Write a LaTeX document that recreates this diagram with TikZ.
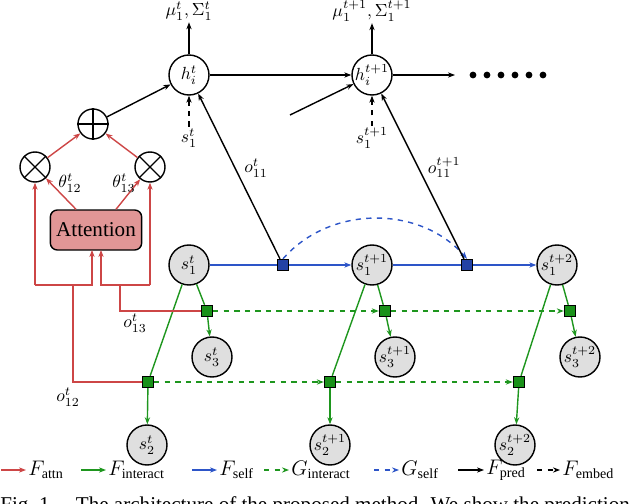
\documentclass[tikz,border=0pt]{standalone}
\usepackage{fontspec}
\setmainfont{Liberation Serif}
\usetikzlibrary{arrows.meta}
\definecolor{cred}{RGB}{205,70,70}
\definecolor{cgreen}{RGB}{30,150,30}
\definecolor{cblue}{RGB}{45,85,200}
\definecolor{sqblue}{RGB}{35,65,165}
\definecolor{sqgreen}{RGB}{25,145,25}
\definecolor{attfill}{RGB}{225,150,150}
\tikzset{
  >={Stealth[length=4pt,width=3pt]},
  hnode/.style={circle,draw,thick,minimum size=40*0.02cm,inner sep=0pt},
  snode/.style={circle,draw,thick,fill=gray!25,minimum size=40*0.02cm,inner sep=0pt},
  opnode/.style={circle,draw,thick,minimum size=30*0.02cm,inner sep=0pt},
  bsq/.style={draw,thick,fill=sqblue,minimum size=11*0.02cm,inner sep=0pt},
  gsq/.style={draw,thick,fill=sqgreen,minimum size=11*0.02cm,inner sep=0pt},
  redl/.style={cred,thick},
  greenl/.style={cgreen,thick},
  bluel/.style={cblue,thick},
  lbl/.style={font=\normalsize,inner sep=1pt},
  leg/.style={right=0pt,black,inner sep=1pt,font=\large},
}
\begin{document}
\begin{tikzpicture}[x=0.02cm,y=-0.02cm]
\useasboundingbox (0,0) rectangle (640,504);
\clip (0,0) rectangle (640,504);
% top row
\node[hnode] (h1) at (189,75) {$h_i^t$};
\node[hnode] (h2) at (372,75) {$h_i^{t+1}$};
\node[lbl] (mu1) at (189,11) {$\mu_1^t,\Sigma_1^t$};
\node[lbl] (mu2) at (372,11) {$\mu_1^{t+1},\Sigma_1^{t+1}$};
\draw[->,thick] (h1) -- (mu1);
\draw[->,thick] (h2) -- (mu2);
\draw[->,thick] (h1) -- (h2);
\coordinate (hend) at (455,75);
\draw[->,thick] (h2) -- (hend);
\foreach \x in {473,487,501,515,529,543} \fill (\x,75) circle (3.4*0.02cm);
\coordinate (pin) at (290,115);
\draw[->,thick] (pin) -- (h2);
\node[lbl] (e1) at (189,138) {$s_1^t$};
\node[lbl] (e2) at (372,138) {$s_1^{t+1}$};
\draw[->,thick,dashed] (e1) -- (h1);
\draw[->,thick,dashed] (e2) -- (h2);
% attention block
\node[opnode] (plus) at (93,124) {};
\draw[thick] (plus.north) -- (plus.south) (plus.west) -- (plus.east);
\node[opnode] (m1) at (35,167) {};
\node[opnode] (m2) at (150,167) {};
\foreach \m in {m1,m2}
  \draw[thick] (\m.north west) -- (\m.south east) (\m.north east) -- (\m.south west);
\draw[->,thick] (plus) -- (h1);
\draw[->,redl] (m1) -- (plus);
\draw[->,redl] (m2) -- (plus);
\node[draw,thick,rounded corners=4pt,fill=attfill,minimum width=82*0.02cm,minimum height=40*0.02cm,font=\large] (att) at (96,230) {Attention};
\draw[->,redl] ([xshift=-20*0.02cm]att.north) -- (m1);
\draw[->,redl] ([xshift=20*0.02cm]att.north) -- (m2);
\node[lbl] at (70,183) {$\theta_{12}^t$};
\node[lbl] at (124,183) {$\theta_{13}^t$};
% state nodes
\node[snode] (s1a) at (189,265) {$s_1^t$};
\node[snode] (s1b) at (372,265) {$s_1^{t+1}$};
\node[snode] (s1c) at (557,265) {$s_1^{t+2}$};
\node[snode] (s3a) at (212,357) {$s_3^t$};
\node[snode] (s3b) at (395,357) {$s_3^{t+1}$};
\node[snode] (s3c) at (580,357) {$s_3^{t+2}$};
\node[snode] (s2a) at (147,445) {$s_2^t$};
\node[snode] (s2b) at (330,445) {$s_2^{t+1}$};
\node[snode] (s2c) at (515,445) {$s_2^{t+2}$};
% self
\node[bsq] (b1) at (283,265) {};
\node[bsq] (b2) at (467,265) {};
\draw[bluel] (s1a) -- (b1);
\draw[->,bluel] (b1) -- (s1b);
\draw[bluel] (s1b) -- (b2);
\draw[->,bluel] (b2) -- (s1c);
\draw[->,bluel,dashed] (b1.north) .. controls (330,205) and (420,205) .. (b2.north);
\draw[->,thick] (b1) -- node[lbl,pos=0.55,right=4pt] {$o_{11}^t$} (h1);
\draw[->,thick] (b2) -- node[lbl,pos=0.55,right=4pt] {$o_{11}^{t+1}$} (h2);
% interact
\node[gsq] (ga1) at (207,311) {};
\node[gsq] (ga2) at (385,311) {};
\node[gsq] (ga3) at (570,311) {};
\node[gsq] (gb1) at (148,382) {};
\node[gsq] (gb2) at (330,382) {};
\node[gsq] (gb3) at (519,382) {};
\draw[->,greenl,dashed] (ga1) -- (ga2);
\draw[->,greenl,dashed] (ga2) -- (ga3);
\draw[->,greenl,dashed] (gb1) -- (gb2);
\draw[->,greenl,dashed] (gb2) -- (gb3);
\draw[greenl] (s1a) -- (ga1); \draw[->,greenl] (ga1) -- (s3a);
\draw[greenl] (s1a) -- (gb1); \draw[->,greenl] (gb1) -- (s2a);
\draw[greenl] (s1b) -- (ga2); \draw[->,greenl] (ga2) -- (s3b);
\draw[greenl] (s1b) -- (gb2); \draw[->,greenl] (gb2) -- (s2b);
\draw[greenl] (s1c) -- (ga3); \draw[->,greenl] (ga3) -- (s3c);
\draw[greenl] (s1c) -- (gb3); \draw[->,greenl] (gb3) -- (s2c);
% red feeds
\draw[redl] (ga1) -- (120,311) -- (120,285);
\draw[->,redl] (150,285) -- (101,285) -- (101,250);
\draw[->,redl] (150,285) -- (m2);
\draw[redl] (gb1) -- (73,382) -- (73,285);
\draw[->,redl] (35,285) -- (92,285) -- (92,250);
\draw[->,redl] (35,285) -- (m1);
\node[lbl] at (135,323) {$o_{13}^t$};
\node[lbl] at (68,397) {$o_{12}^t$};
% legend
\draw[->,redl] (1,470) -- (26,470) node[leg] {$F_{\mathrm{attn}}$};
\draw[->,greenl] (81,470) -- (106,470) node[leg] {$F_{\mathrm{interact}}$};
\draw[->,bluel] (192,470) -- (217,470) node[leg] {$F_{\mathrm{self}}$};
\draw[->,greenl,dashed] (264,470) -- (289,470) node[leg] {$G_{\mathrm{interact}}$};
\draw[->,bluel,dashed] (374,470) -- (399,470) node[leg] {$G_{\mathrm{self}}$};
\draw[->,thick] (458,470) -- (484,470) node[leg] {$F_{\mathrm{pred}}$};
\draw[->,thick,dashed] (537,470) -- (560,470) node[leg] {$F_{\mathrm{embed}}$};
\node[anchor=west,inner sep=0pt,font=\large] at (0,506) {Fig.~1.\quad The architecture of the proposed method. We show the prediction};
\end{tikzpicture}
\end{document}
